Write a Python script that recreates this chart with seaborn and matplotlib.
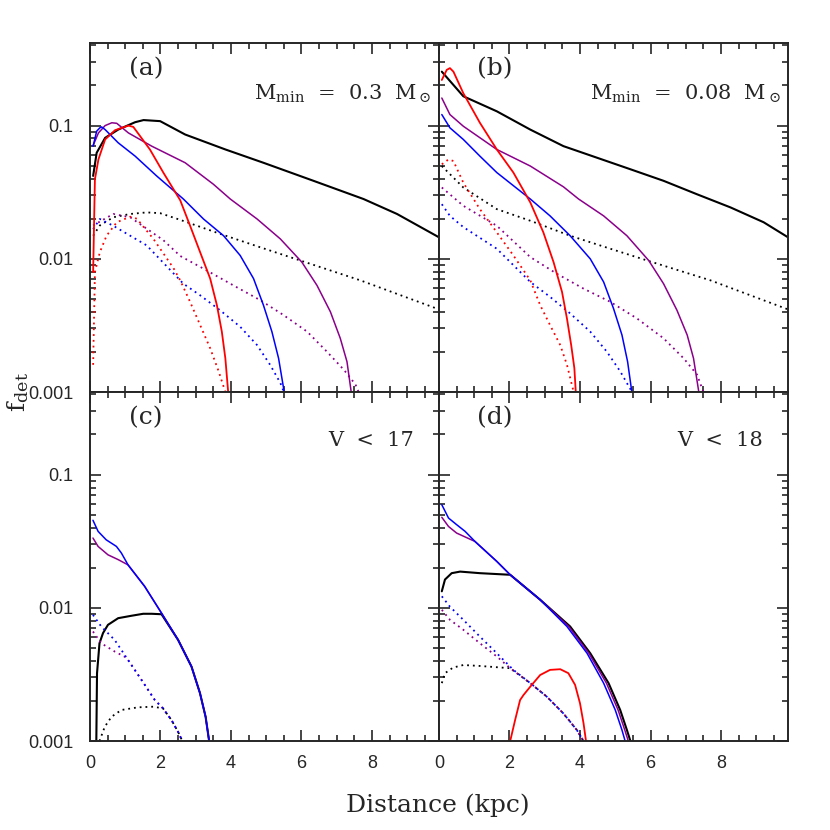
import numpy as np
import matplotlib
matplotlib.use("Agg")
import matplotlib.pyplot as plt
import matplotlib.ticker as mticker
import seaborn as sns

# ---- panel (a): M_min = 0.3 Msun ----
A_BLACK_X = [0.09, 0.19, 0.43, 0.8, 1.28, 1.52, 1.99, 2.7, 3.84, 4.92, 6.34, 7.76, 8.71, 9.9]
A_BLACK_F = [0.0419, 0.0625, 0.0809, 0.0933, 0.106, 0.110, 0.108, 0.0857, 0.0662, 0.0526, 0.0385, 0.0281, 0.0217, 0.0145]
A_BLACK_DOT_X = [0.09, 0.28, 0.66, 1.14, 1.61, 1.99, 2.56, 3.69, 4.83, 5.97, 7.67, 9.9]
A_BLACK_DOT_F = [0.0149, 0.0178, 0.0205, 0.0217, 0.0223, 0.0220, 0.0196, 0.0154, 0.0122, 0.0097, 0.00689, 0.00417]
A_PURPLE_X = [0.09, 0.24, 0.43, 0.62, 0.76, 1.09, 1.75, 2.7, 3.5, 3.98, 4.74, 5.4, 6.01, 6.44, 6.82, 7.1, 7.29, 7.41]
A_PURPLE_F = [0.0710, 0.0881, 0.100, 0.105, 0.104, 0.0881, 0.0701, 0.0526, 0.0363, 0.0281, 0.0199, 0.0141, 0.00944, 0.00631, 0.0040, 0.00253, 0.00169, 0.0010]
A_PURPLE_DOT_X = [0.09, 0.66, 1.14, 2.08, 2.56, 3.31, 4.07, 4.83, 5.49, 6.16, 6.72, 7.2, 7.53, 7.62]
A_PURPLE_DOT_F = [0.0178, 0.0217, 0.0205, 0.0138, 0.0105, 0.00818, 0.00631, 0.00489, 0.00378, 0.00284, 0.00201, 0.00147, 0.00114, 0.0010]
A_BLUE_X = [0.09, 0.19, 0.28, 0.33, 0.43, 0.8, 1.28, 1.89, 2.65, 3.22, 3.79, 4.26, 4.64, 4.92, 5.16, 5.35, 5.51]
A_BLUE_F = [0.0701, 0.0908, 0.0962, 0.0977, 0.0933, 0.0743, 0.0590, 0.0419, 0.0281, 0.0199, 0.0149, 0.0106, 0.0071, 0.00449, 0.00284, 0.00179, 0.0010]
A_BLUE_DOT_X = [0.09, 0.28, 0.66, 1.61, 2.65, 3.125, 3.69, 4.26, 4.74, 5.11, 5.4, 5.5]
A_BLUE_DOT_F = [0.0167, 0.0199, 0.0177, 0.0126, 0.0065, 0.00532, 0.00411, 0.00309, 0.00225, 0.0016, 0.00117, 0.0010]
A_RED_X = [0.09, 0.14, 0.24, 0.43, 0.71, 1.09, 1.23, 1.7, 2.08, 2.56, 2.84, 3.125, 3.41, 3.6, 3.74, 3.84, 3.92]
A_RED_F = [0.00796, 0.0395, 0.0557, 0.0787, 0.0923, 0.100, 0.0977, 0.0662, 0.0444, 0.0275, 0.0177, 0.0112, 0.0071, 0.00449, 0.00284, 0.00179, 0.0010]
A_RED_DOT_X = [0.09, 0.14, 0.28, 0.47, 0.76, 1.14, 1.33, 1.8, 2.37, 2.56, 2.84, 3.125, 3.41, 3.65, 3.84]
A_RED_DOT_F = [0.0016, 0.00796, 0.0112, 0.0149, 0.0188, 0.0207, 0.0200, 0.0141, 0.00850, 0.00689, 0.00475, 0.00318, 0.00213, 0.00143, 0.0010]

# ---- panel (b): M_min = 0.08 Msun ----
B_BLACK_X = [0.08, 0.69, 1.64, 2.59, 3.53, 4.48, 5.43, 6.37, 7.32, 8.27, 9.21, 9.9]
B_BLACK_F = [0.254, 0.166, 0.128, 0.0933, 0.0701, 0.0574, 0.0470, 0.0385, 0.0305, 0.0243, 0.0188, 0.0145]
B_BLACK_DOT_X = [0.08, 0.69, 1.64, 2.59, 3.72, 4.86, 5.99, 7.7, 9.9]
B_BLACK_DOT_F = [0.0497, 0.0343, 0.0236, 0.0193, 0.0149, 0.0119, 0.00955, 0.00689, 0.00417]
B_PURPLE_X = [0.08, 0.31, 0.69, 1.64, 2.59, 3.53, 3.96, 4.67, 5.33, 5.95, 6.37, 6.75, 7.04, 7.22, 7.37]
B_PURPLE_F = [0.161, 0.121, 0.0989, 0.0662, 0.0497, 0.0347, 0.0281, 0.0210, 0.0149, 0.0097, 0.0065, 0.00411, 0.00268, 0.00179, 0.0010]
B_PURPLE_DOT_X = [0.08, 0.69, 1.64, 2.59, 3.34, 4.1, 4.86, 5.62, 6.37, 6.94, 7.32, 7.5]
B_PURPLE_DOT_F = [0.0343, 0.0250, 0.0177, 0.0103, 0.00773, 0.00597, 0.00475, 0.00356, 0.00253, 0.00179, 0.00135, 0.0010]
B_BLUE_X = [0.08, 0.31, 0.69, 1.16, 1.64, 2.59, 3.15, 3.72, 4.29, 4.67, 4.95, 5.19, 5.35, 5.47]
B_BLUE_F = [0.121, 0.0962, 0.0787, 0.0590, 0.0444, 0.0281, 0.0210, 0.0149, 0.0100, 0.0067, 0.00424, 0.00268, 0.00169, 0.0010]
B_BLUE_DOT_X = [0.08, 0.31, 0.69, 1.64, 2.59, 3.15, 3.72, 4.29, 4.76, 5.14, 5.43, 5.5]
B_BLUE_DOT_F = [0.0257, 0.0210, 0.0173, 0.0119, 0.0067, 0.00518, 0.00389, 0.00284, 0.00201, 0.00143, 0.00105, 0.0010]
B_RED_X = [0.08, 0.22, 0.31, 0.41, 0.69, 1.16, 1.64, 2.11, 2.59, 2.96, 3.25, 3.49, 3.63, 3.75, 3.84, 3.88]
B_RED_F = [0.220, 0.262, 0.270, 0.254, 0.175, 0.105, 0.0662, 0.0444, 0.0265, 0.0158, 0.00944, 0.00564, 0.00356, 0.00225, 0.00151, 0.0010]
B_RED_DOT_X = [0.08, 0.27, 0.41, 0.69, 1.16, 1.64, 2.11, 2.59, 2.87, 3.15, 3.44, 3.63, 3.82]
B_RED_DOT_F = [0.0512, 0.0557, 0.0542, 0.0373, 0.0236, 0.0158, 0.0106, 0.00689, 0.00449, 0.00318, 0.00225, 0.0016, 0.0010]

# ---- panel (c): V < 17 ----
C_BLACK_X = [0.18, 0.2, 0.27, 0.37, 0.51, 0.8, 1.17, 1.51, 1.75, 2.03, 2.5, 2.88, 3.12, 3.28, 3.38]
C_BLACK_F = [0.0010, 0.00323, 0.00542, 0.00646, 0.00745, 0.00836, 0.00871, 0.00902, 0.00902, 0.00895, 0.00574, 0.00362, 0.00229, 0.00152, 0.0010]
C_BLACK_DOT_X = [0.27, 0.42, 0.61, 0.89, 1.36, 1.79, 2.07, 2.31, 2.5, 2.62]
C_BLACK_DOT_F = [0.0010, 0.00128, 0.00152, 0.00171, 0.00179, 0.00181, 0.00176, 0.00144, 0.00117, 0.0010]
C_PURPLE_X = [0.085, 0.23, 0.51, 0.8, 1.08, 1.55, 2.03, 2.5, 2.88, 3.12, 3.28, 3.38]
C_PURPLE_F = [0.0334, 0.0289, 0.0250, 0.0230, 0.0210, 0.0145, 0.00912, 0.00574, 0.00362, 0.00229, 0.00152, 0.0010]
C_PURPLE_DOT_X = [0.085, 0.32, 0.7, 0.98, 1.08, 1.46, 1.84, 2.07, 2.31, 2.5, 2.62]
C_PURPLE_DOT_F = [0.00664, 0.00542, 0.0047, 0.0043, 0.00406, 0.00288, 0.00203, 0.00176, 0.00144, 0.00117, 0.0010]
C_BLUE_X = [0.085, 0.23, 0.46, 0.75, 0.89, 1.08, 1.55, 2.03, 2.5, 2.88, 3.12, 3.28, 3.38]
C_BLUE_F = [0.0454, 0.0375, 0.0324, 0.0289, 0.0258, 0.0210, 0.0145, 0.00912, 0.00574, 0.00362, 0.00229, 0.00152, 0.0010]
C_BLUE_DOT_X = [0.085, 0.32, 0.7, 1.08, 1.46, 1.84, 2.07, 2.31, 2.5, 2.62]
C_BLUE_DOT_F = [0.00885, 0.00724, 0.00574, 0.00406, 0.00288, 0.00203, 0.00176, 0.00144, 0.00117, 0.0010]

# ---- panel (d): V < 18 ----
D_BLACK_X = [0.08, 0.17, 0.36, 0.6, 1.16, 2.02, 2.87, 3.72, 4.29, 4.81, 5.14, 5.33, 5.43]
D_BLACK_F = [0.0133, 0.0163, 0.0182, 0.0187, 0.0182, 0.0177, 0.0115, 0.00724, 0.00456, 0.00272, 0.00171, 0.00121, 0.0010]
D_BLACK_DOT_X = [0.08, 0.17, 0.4, 0.69, 1.16, 2.02, 2.59, 3.06, 3.53, 3.91, 4.1]
D_BLACK_DOT_F = [0.00272, 0.00323, 0.00356, 0.00372, 0.00366, 0.00352, 0.00272, 0.00215, 0.00161, 0.00121, 0.0010]
D_PURPLE_X = [0.08, 0.27, 0.5, 1.02, 1.64, 2.02, 2.87, 3.68, 4.25, 4.75, 5.08, 5.27, 5.37]
D_PURPLE_F = [0.0478, 0.0408, 0.0364, 0.0315, 0.0223, 0.0177, 0.0115, 0.00724, 0.00456, 0.00272, 0.00171, 0.00121, 0.0010]
D_PURPLE_DOT_X = [0.08, 0.31, 0.69, 1.16, 1.64, 2.02, 2.59, 3.06, 3.53, 3.91, 4.1]
D_PURPLE_DOT_F = [0.00966, 0.00813, 0.00684, 0.00542, 0.00431, 0.00352, 0.00272, 0.00215, 0.00161, 0.00121, 0.0010]
D_BLUE_X = [0.08, 0.27, 0.5, 0.74, 1.02, 1.64, 2.02, 2.87, 3.63, 4.2, 4.67, 5.0, 5.19, 5.28]
D_BLUE_F = [0.0594, 0.0472, 0.0421, 0.0375, 0.0315, 0.0223, 0.0177, 0.0115, 0.00724, 0.00456, 0.00272, 0.00171, 0.00121, 0.0010]
D_BLUE_DOT_X = [0.08, 0.31, 0.69, 1.16, 1.64, 2.11, 2.59, 3.06, 3.53, 3.91, 4.1]
D_BLUE_DOT_F = [0.0122, 0.0102, 0.00813, 0.00608, 0.00456, 0.00342, 0.00272, 0.00215, 0.00161, 0.00121, 0.0010]
D_RED_X = [2.02, 2.16, 2.3, 2.4, 2.59, 2.87, 3.15, 3.44, 3.67, 3.86, 4.0, 4.1, 4.17]
D_RED_F = [0.0010, 0.00144, 0.00203, 0.00222, 0.00256, 0.00313, 0.00342, 0.00346, 0.00323, 0.00264, 0.00192, 0.00136, 0.0010]

PANEL_TAGS = ["(a)", "(b)", "(c)", "(d)"]
PANEL_CONDS = [r"M$_{\rm min}$  =  0.3  M$_\odot$", r"M$_{\rm min}$  =  0.08  M$_\odot$",
               "V  <  17", "V  <  18"]
X_TICKS = [0, 2, 4, 6, 8]
Y_TICKS = [0.001, 0.01, 0.1]
Y_TICK_LABELS = ["0.001", "0.01", "0.1"]

RED = "#ff0000"
BLUE = "#0000ff"
PURPLE = "#8b008b"
BLACK = "#000000"
DOTS = (0, (1.0, 2.2))


def draw(ax, x, f, color, dotted=False, lw=1.1):
    sns.lineplot(x=x, y=f, ax=ax, color=color, estimator=None, sort=False,
                 linewidth=(1.3 if dotted else lw),
                 linestyle=(DOTS if dotted else "-"))


def main():
    sns.set_style("ticks")
    plt.rcParams["font.family"] = ["Liberation Sans", "DejaVu Sans"]
    plt.rcParams["mathtext.fontset"] = "dejavuserif"

    fig = plt.figure(figsize=(8.3, 8.3), dpi=100)
    w = 0.4205
    pos = [[0.1084, 0.5277, w, w], [0.5289, 0.5277, w, w],
           [0.1084, 0.1072, w, w], [0.5289, 0.1072, w, w]]
    axes = [fig.add_axes(p) for p in pos]
    ax_a, ax_b, ax_c, ax_d = axes

    # (a)
    draw(ax_a, A_BLACK_X, A_BLACK_F, BLACK, lw=1.5)
    draw(ax_a, A_BLACK_DOT_X, A_BLACK_DOT_F, BLACK, dotted=True)
    draw(ax_a, A_PURPLE_X, A_PURPLE_F, PURPLE)
    draw(ax_a, A_PURPLE_DOT_X, A_PURPLE_DOT_F, PURPLE, dotted=True)
    draw(ax_a, A_BLUE_X, A_BLUE_F, BLUE)
    draw(ax_a, A_BLUE_DOT_X, A_BLUE_DOT_F, BLUE, dotted=True)
    draw(ax_a, A_RED_X, A_RED_F, RED, lw=1.3)
    draw(ax_a, A_RED_DOT_X, A_RED_DOT_F, RED, dotted=True)
    # (b)
    draw(ax_b, B_BLACK_X, B_BLACK_F, BLACK, lw=1.5)
    draw(ax_b, B_BLACK_DOT_X, B_BLACK_DOT_F, BLACK, dotted=True)
    draw(ax_b, B_PURPLE_X, B_PURPLE_F, PURPLE)
    draw(ax_b, B_PURPLE_DOT_X, B_PURPLE_DOT_F, PURPLE, dotted=True)
    draw(ax_b, B_BLUE_X, B_BLUE_F, BLUE)
    draw(ax_b, B_BLUE_DOT_X, B_BLUE_DOT_F, BLUE, dotted=True)
    draw(ax_b, B_RED_X, B_RED_F, RED, lw=1.3)
    draw(ax_b, B_RED_DOT_X, B_RED_DOT_F, RED, dotted=True)
    # (c)
    draw(ax_c, C_BLACK_X, C_BLACK_F, BLACK, lw=1.5)
    draw(ax_c, C_BLACK_DOT_X, C_BLACK_DOT_F, BLACK, dotted=True)
    draw(ax_c, C_PURPLE_X, C_PURPLE_F, PURPLE)
    draw(ax_c, C_PURPLE_DOT_X, C_PURPLE_DOT_F, PURPLE, dotted=True)
    draw(ax_c, C_BLUE_X, C_BLUE_F, BLUE)
    draw(ax_c, C_BLUE_DOT_X, C_BLUE_DOT_F, BLUE, dotted=True)
    # (d)
    draw(ax_d, D_BLACK_X, D_BLACK_F, BLACK, lw=1.5)
    draw(ax_d, D_BLACK_DOT_X, D_BLACK_DOT_F, BLACK, dotted=True)
    draw(ax_d, D_PURPLE_X, D_PURPLE_F, PURPLE)
    draw(ax_d, D_PURPLE_DOT_X, D_PURPLE_DOT_F, PURPLE, dotted=True)
    draw(ax_d, D_BLUE_X, D_BLUE_F, BLUE)
    draw(ax_d, D_BLUE_DOT_X, D_BLUE_DOT_F, BLUE, dotted=True)
    draw(ax_d, D_RED_X, D_RED_F, RED, lw=1.3)

    for i, ax in enumerate(axes):
        ax.set_yscale("log")
        ax.set_xlim(0, 9.9)
        ax.set_ylim(0.001, 10 ** -0.38)
        ax.set_xticks(X_TICKS)
        ax.xaxis.set_minor_locator(mticker.MultipleLocator(0.5))
        ax.set_yticks(Y_TICKS)
        ax.yaxis.set_minor_locator(mticker.LogLocator(base=10, subs=np.arange(2, 10)))
        ax.yaxis.set_minor_formatter(mticker.NullFormatter())
        ax.tick_params(which="both", direction="in", top=True, right=True, width=1.2, labelsize=13)
        ax.tick_params(which="major", length=8)
        ax.tick_params(which="minor", length=4.5)
        ax.tick_params(axis="y", pad=12)
        ax.tick_params(axis="x", pad=10)
        for s in ax.spines.values():
            s.set_linewidth(1.4)
        if i in (0, 2):
            ax.set_yticklabels(Y_TICK_LABELS)
        else:
            ax.set_yticklabels([])
        if i in (2, 3):
            ax.set_xticklabels([str(t) for t in X_TICKS])
        else:
            ax.set_xticklabels([])
        ax.set_xlabel("")
        ax.set_ylabel("")
        ax.text(0.16, 0.925, PANEL_TAGS[i], transform=ax.transAxes, ha="center", va="center",
                fontsize=18, family="DejaVu Serif")
        ax.text(0.978 if i < 2 else 0.928, 0.853 if i < 2 else 0.862, PANEL_CONDS[i],
                transform=ax.transAxes, ha="right", va="center", fontsize=15, family="DejaVu Serif")

    fig.text(0.527, 0.030, "Distance (kpc)", ha="center", va="center", fontsize=18, family="DejaVu Serif")
    fig.text(0.022, 0.5275, r"f$_{\rm det}$", ha="center", va="center", rotation=90,
             fontsize=18, family="DejaVu Serif")

    fig.savefig("out.png", dpi=100)


if __name__ == "__main__":
    main()
